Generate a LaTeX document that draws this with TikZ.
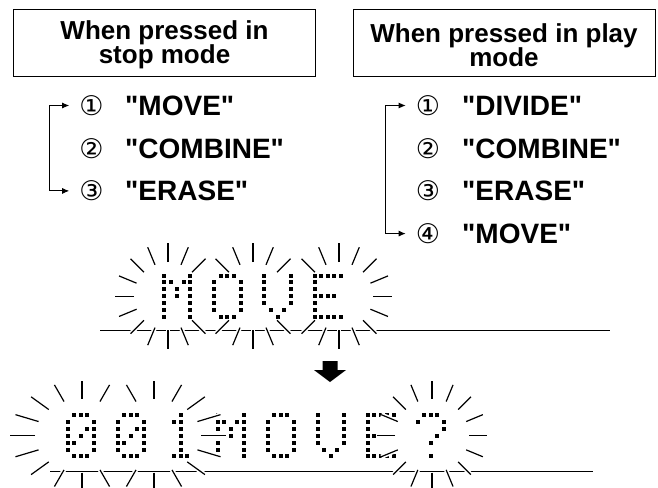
\documentclass[tikz,border=0pt]{standalone}
\usepackage{fontspec}
\setmainfont{Liberation Sans}
\newfontfamily\lblfont{Liberation Sans}
\newfontfamily\circfont{DejaVu Sans}
\usetikzlibrary{arrows.meta}
% dot-matrix helpers
\def\dmd#1#2#3#4#5{\ifnum#5=1 \fill ({#1+#4*6.6-2},{#2+#3*6.9-2}) rectangle ++(4,4);\fi}
\def\dmr#1#2#3#4#5#6#7#8{\dmd{#1}{#2}{#3}{0}{#4}\dmd{#1}{#2}{#3}{1}{#5}\dmd{#1}{#2}{#3}{2}{#6}\dmd{#1}{#2}{#3}{3}{#7}\dmd{#1}{#2}{#3}{4}{#8}}
\newcommand\dmc[9]{\dmr{#1}{#2}{0}#3\dmr{#1}{#2}{1}#4\dmr{#1}{#2}{2}#5\dmr{#1}{#2}{3}#6\dmr{#1}{#2}{4}#7\dmr{#1}{#2}{5}#8\dmr{#1}{#2}{6}#9}
\newcommand\chM[2]{\dmc{#1}{#2}{10001}{11011}{10101}{10101}{10001}{10001}{10001}}
\newcommand\chO[2]{\dmc{#1}{#2}{01110}{10001}{10001}{10001}{10001}{10001}{01110}}
\newcommand\chV[2]{\dmc{#1}{#2}{10001}{10001}{10001}{10001}{10001}{01010}{00100}}
\newcommand\chE[2]{\dmc{#1}{#2}{11111}{10000}{10000}{11110}{10000}{10000}{11111}}
\newcommand\chZ[2]{\dmc{#1}{#2}{01110}{10001}{10011}{10101}{11001}{10001}{01110}}
\newcommand\chI[2]{\dmc{#1}{#2}{00100}{01100}{00100}{00100}{00100}{00100}{01110}}
\newcommand\chQ[2]{\dmc{#1}{#2}{01110}{10001}{00001}{00010}{00100}{00000}{00100}}
\newcommand\burst[7]{\foreach \a in {#7} {\draw[ray] ({#1+#3*cos(\a)},{#2-#4*sin(\a)}) -- ({#1+#5*cos(\a)},{#2-#6*sin(\a)});}}
\begin{document}
\begin{tikzpicture}[x=1pt,y=-1pt,
  hdr/.style={draw, line width=0.9pt, minimum width=302pt, minimum height=67pt, inner sep=0pt},
  hdrtxt/.style={align=center, inner sep=0pt, font=\bfseries\fontsize{26}{24.5}\selectfont},
  num/.style={inner sep=0pt, font=\circfont\fontsize{27}{27}\selectfont},
  lbl/.style={anchor=base west, inner sep=0pt, font=\lblfont\bfseries\fontsize{28}{28}\selectfont},
  brk/.style={line width=0.9pt, {Latex[length=7pt,width=6pt]}-{Latex[length=7pt,width=6pt]}},
  ray/.style={line width=1.2pt, preaction={draw=white, line width=4.5pt}},
  baseln/.style={line width=1.3pt}]
\useasboundingbox (0,0) rectangle (658,487);
% headers
\node[hdr] (h1) at (164.5,42.5) {};
\node[hdr] (h2) at (504,42.5) {};
\node[hdrtxt] (h1t) at (164.5,45) {When pressed in\\stop mode};
\node[hdrtxt] (h2t) at (504,45) {When pressed in play\\mode};
% left list
\node[num] (l1) at (91.5,105.5) {①};
\node[num] (l2) at (91.5,148.2) {②};
\node[num] (l3) at (91.5,190.9) {③};
\node[lbl] (t1) at (125,115.5) {"MOVE"};
\node[lbl] (t2) at (125,158.2) {"COMBINE"};
\node[lbl] (t3) at (125,200.9) {"ERASE"};
\draw[brk] ([xshift=-10pt]l1.west) -- ++(-20,0) |- ([xshift=-10pt]l3.west);
% right list
\node[num] (r1) at (428,105.5) {①};
\node[num] (r2) at (428,148.2) {②};
\node[num] (r3) at (428,190.9) {③};
\node[num] (r4) at (428,233.6) {④};
\node[lbl] (u1) at (462,115.5) {"DIVIDE"};
\node[lbl] (u2) at (462,158.2) {"COMBINE"};
\node[lbl] (u3) at (462,200.9) {"ERASE"};
\node[lbl] (u4) at (462,243.6) {"MOVE"};
\draw[brk] ([xshift=-10pt]r1.west) -- ++(-20,0) |- ([xshift=-10pt]r4.west);
% display 1
\draw[baseln] (100,330.5) -- (610,330.5);
\chM{164}{275.5}\chO{214.2}{275.5}\chV{264.4}{275.5}\chE{314.6}{275.5}
\burst{168}{296.2}{34}{34}{53}{53}{45,67.5,90,112.5,135,157.5,180,202.5,225,247.5,270,292.5,315}
\burst{253}{296.2}{34}{34}{53}{53}{45,67.5,90,112.5,135,225,247.5,270,292.5,315}
\burst{339}{296.2}{34}{34}{53}{53}{0,22.5,45,67.5,90,112.5,135,225,247.5,270,292.5,315,337.5}
% arrow
\fill (322.5,361) -- (337.5,361) -- (337.5,370) -- (346,370) -- (330,382) -- (314,370) -- (322.5,370) -- cycle;
% display 2
\draw[baseln] (50,471.7) -- (593,471.7);
\chZ{67.5}{415}\chZ{117.5}{415}\chI{167.5}{415}\chM{217.5}{415}\chO{267.5}{415}\chV{317.5}{415}\chE{367.5}{415}\chQ{417.5}{415}
\burst{82}{435.7}{47}{37}{72}{55}{67.5,90,112.5,135,157.5,180,202.5,225,247.5,270,292.5}
\burst{154}{435.7}{47}{37}{72}{55}{0,22.5,45,67.5,90,112.5,247.5,270,292.5,315,337.5}
\burst{432}{435.7}{37}{37}{55}{55}{0,22.5,45,67.5,90,112.5,135,157.5,180,202.5,225,247.5,270,292.5,315,337.5}
\end{tikzpicture}
\end{document}
